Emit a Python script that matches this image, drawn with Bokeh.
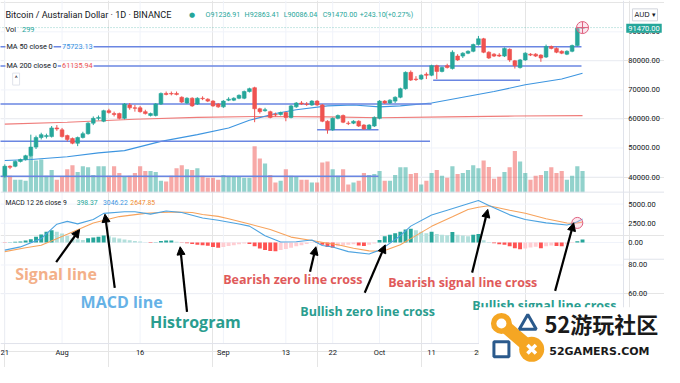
from bokeh.plotting import figure
from bokeh.models import (Range1d, Label, Arrow, NormalHead, Span, ColumnDataSource,
                          BoxAnnotation)
from bokeh.core.properties import value
from bokeh.embed import file_html
from bokeh.resources import INLINE

# ---------------- data ----------------
first_day = "2021-07-21"          # day index 0
date_ticks = [0, 11, 26, 42, 54, 63, 72, 82, 91]
date_tick_labels = ["21", "Aug", "16", "Sep", "13", "22", "Oct", "11", "20"]
price_ticks = [40000, 50000, 60000, 70000, 80000, 90000]
macd_ticks = [0, 2500, 5000]
osc_ticks = [60, 80]

opens = [40400, 43700, 43700, 45350, 46010, 47330, 50300, 53600, 53930, 53930,
         56900, 56240, 54260, 53270, 51620, 53600, 54920, 58550, 60200, 59210,
         62840, 61850, 61850, 60200, 64820, 63830, 63830, 62510, 61190, 61190,
         65150, 68780, 68780, 68780, 67460, 65480, 67130, 65150, 67130, 66800,
         66140, 65150, 64160, 66470, 66470, 67130, 67130, 69440, 70760, 63500,
         62840, 62510, 61520, 61520, 62180, 60530, 64160, 65480, 65150, 64820,
         66140, 64820, 59210, 56240, 60200, 61190, 58550, 58550, 59210, 57890,
         56570, 57560, 60200, 66140, 65480, 66140, 67460, 70430, 76040, 73730,
         73730, 75380, 75050, 78350, 76370, 78350, 77360, 81650, 81650, 82640,
         83300, 85610, 87590, 82970, 82310, 81980, 81650, 83960, 80000, 77690,
         80330, 82310, 82310, 81980, 81320, 84950, 84290, 83300, 82310, 83300,
         85280, 91236.91]
highs = [44360, 44030, 45680, 46340, 47660, 54590, 54260, 55250, 54920, 57560,
         57890, 56900, 54590, 53600, 53930, 55580, 58880, 60860, 61190, 63170,
         63500, 62510, 62180, 65480, 65480, 64820, 64490, 63170, 62180, 65480,
         69110, 69440, 69440, 69440, 67790, 67460, 67460, 67460, 67790, 67130,
         66470, 65480, 66470, 67460, 67460, 68450, 69770, 70760, 71090, 63830,
         63830, 62840, 62180, 62510, 62510, 64820, 65810, 66140, 65810, 66470,
         66470, 65150, 59540, 60530, 61520, 61520, 59210, 59540, 59540, 58220,
         58220, 60860, 66470, 66470, 66800, 67790, 70760, 76370, 76700, 74720,
         75380, 76040, 78680, 78680, 78020, 79010, 83630, 82310, 82970, 83630,
         85940, 88580, 87920, 83300, 82640, 82640, 84620, 84290, 80330, 80660,
         82970, 82640, 82640, 82310, 85610, 85280, 84620, 83630, 83630, 85610,
         91570, 92863.41]
lows = [39740, 42710, 43370, 45020, 45680, 47000, 49640, 52940, 53270, 53600,
        55910, 53600, 52280, 51290, 50630, 53270, 54590, 57890, 59540, 58880,
        61850, 60860, 59870, 59870, 63170, 62510, 62180, 61520, 60860, 60860,
        64820, 68120, 68120, 68120, 65480, 65150, 64160, 64820, 66470, 65810,
        64160, 63830, 63830, 66140, 66140, 66800, 66800, 69110, 58880, 61850,
        62510, 60200, 60860, 61190, 59210, 60200, 63830, 64820, 64490, 64490,
        64490, 58880, 54920, 55910, 59870, 58550, 57890, 58220, 57230, 56240,
        56240, 57230, 59870, 65150, 65150, 65480, 67130, 70100, 73070, 73070,
        73400, 73730, 74720, 73730, 76040, 77360, 77030, 80000, 80990, 82310,
        82970, 85280, 82640, 80660, 81320, 81320, 81320, 79670, 77360, 77360,
        80000, 81650, 81320, 79670, 80990, 83960, 82640, 82310, 81980, 82970,
        84950, 90086.04]
closes = [43700, 43370, 45350, 46010, 47330, 50300, 53600, 54590, 54260, 56900,
          56570, 53930, 52940, 51620, 53600, 54920, 58550, 60200, 60530, 62840,
          62180, 61520, 60200, 65150, 63830, 63670, 62510, 61850, 61850, 65150,
          68780, 68450, 68620, 68450, 65810, 67130, 64490, 67130, 66970, 66140,
          64490, 64160, 66140, 66800, 67130, 68120, 69440, 70430, 63500, 62510,
          63170, 60530, 61360, 62180, 60530, 64490, 65480, 65150, 64990, 66140,
          64820, 59210, 56240, 60200, 61190, 58880, 58390, 59210, 57560, 56570,
          57890, 60530, 66140, 65480, 66470, 67460, 70430, 76040, 73400, 73570,
          75050, 75050, 78350, 76370, 77690, 77690, 82970, 80330, 82640, 83300,
          85610, 87590, 82970, 80990, 81650, 81650, 84290, 80330, 78350, 80330,
          82640, 81980, 81650, 80990, 84950, 84290, 82970, 82640, 83300, 85280,
          91226.90, 91470.00]
volume = [367, 231, 177, 177, 163, 517, 449, 462, 231, 313,
          177, 218, 326, 381, 286, 367, 354, 245, 367, 367,
          231, 367, 272, 218, 231, 272, 367, 299, 299, 286,
          163, 150, 231, 340, 381, 326, 313, 340, 231, 204,
          204, 177, 245, 231, 218, 218, 204, 204, 653, 476,
          408, 245, 136, 163, 326, 231, 218, 177, 177, 136,
          136, 421, 435, 326, 231, 326, 109, 136, 163, 272,
          245, 258, 299, 163, 163, 245, 354, 354, 258, 272,
          109, 163, 272, 313, 231, 204, 367, 258, 272, 313,
          381, 340, 449, 358, 190, 218, 286, 354, 585, 435,
          272, 177, 231, 245, 299, 354, 272, 299, 177, 231,
          367, 299]

ma50_idx = [0, 5, 12, 18, 23, 30, 37, 43, 47, 52, 56, 62, 67, 72, 76, 82, 88, 94, 100, 107, 111]
ma50_val = [45680, 46010, 47000, 48320, 49080, 52280, 54590, 56900, 59540, 61850, 63170,
            64490, 64820, 64160, 64490, 65480, 67460, 69440, 71750, 73730, 75723.13]
ma200_idx = [0, 12, 25, 37, 50, 62, 72, 85, 98, 111]
ma200_val = [58220, 58880, 59870, 60530, 60860, 60700, 60400, 60700, 61000, 61135.94]

# user-drawn horizontal levels
hline_levels = [84850, 78250, 65150, 52280, 40235, 56240, 73300]
hline_from = [-1, -1, -1, -1, -1, 60, 82.3]
hline_to = [110.8, 110.8, 82, 81.7, 71.8, 71.8, 99]

hist = [-40, 40, 80, 125, 250, 420, 750, 1050, 1380, 1590,
        1380, 1170, 850, 540, 420, 330, 540, 650, 750, 900,
        800, 650, 500, 400, 300, 200, 120, 40, -80, 30,
        200, 250, 260, 100, -40, -100, -200, -300, -350, -420,
        -600, -700, -600, -450, -350, -250, -150, -200, -500, -800,
        -1000, -1100, -1150, -1000, -850, -700, -500, -350, -200, -50,
        -60, -300, -600, -700, -500, -400, -300, -250, -400, -450,
        -300, -150, 330, 800, 1000, 1200, 1400, 1700, 1800, 1600,
        1400, 1200, 1400, 1100, 1000, 950, 1375, 1000, 900, 800,
        1000, 1100, 300, 50, -100, -250, -300, -500, -750, -900,
        -800, -650, -550, -750, -500, -400, -450, -500, -250, -80,
        150, 398.37]
macd_idx = [0, 3, 7, 10, 12, 14, 17, 19, 23, 25, 28, 31, 34, 38, 41, 45, 47, 50, 53, 56,
            59, 61, 63, 66, 70, 72, 73, 76, 78, 82, 85, 89, 91, 93, 97, 100, 104, 108, 109, 110, 111]
macd_val = [-1000, -580, 500, 2380, 2750, 2420, 3000, 3790, 4000, 4000, 3700, 4100, 3900, 3200,
            2900, 2400, 2130, 880, 50, 100, 330, -400, -600, -1200, -1500, -1000, -580, 880, 2130,
            3580, 4200, 5040, 5460, 4830, 3600, 3000, 2550, 2280, 2430, 2700, 3046.22]
signal_idx = [0, 4, 7, 12, 17, 22, 27, 30, 33, 36, 38, 41, 43, 47, 51, 55, 59, 62, 64, 67,
              70, 72, 73, 76, 78, 82, 86, 89, 91, 93, 95, 97, 100, 104, 108, 109, 110, 111]
signal_val = [-1200, -700, -375, 1080, 2540, 3375, 3790, 3900, 3980, 3900, 3650, 3400, 3100,
              2400, 1700, 700, 250, -100, -300, -750, -1100, -1150, -1050, -300, 500, 2100,
              3350, 4300, 4600, 4780, 4500, 4200, 3800, 3100, 2530, 2511, 2549, 2647.85]

# ---------------- styling ----------------
GREEN = "#26a69a"
RED = "#ef5350"
TXT = "#131722"
GRID = "#f0f3fa"
SEP = "#e0e3eb"

n = len(closes)
idx = list(range(n))
candle_col = [GREEN if c >= o else RED for o, c in zip(opens, closes)]
hist_col = []
prev = 0
for h in hist:
    if h >= 0:
        hist_col.append("#26a69a" if h >= prev else "#b2dfdb")
    else:
        hist_col.append("#ff5252" if h <= prev else "#ffcdd2")
    prev = h

src = ColumnDataSource(dict(x=idx, o=opens, h=highs, l=lows, c=closes, v=volume,
                            col=candle_col, hist=hist, hcol=hist_col))

# One frame covering the whole canvas; each pane has its own y scale.
p = figure(width=664, height=367, output_backend="svg", toolbar_location=None,
           x_range=Range1d(-0.826, 126.75), y_range=Range1d(-25600, 100790),
           x_axis_location=None, y_axis_location=None, min_border=0)
p.outline_line_color = None
p.background_fill_color = "white"
p.border_fill_color = "white"
# px / py: pixel grid of the chart used only for placing annotations
p.extra_x_ranges = {"px": Range1d(0, 680)}
p.extra_y_ranges = {"vol": Range1d(-2489, 2720), "macd": Range1d(-16312.5, 31562.5),
                    "osc": Range1d(8.67, 264), "py": Range1d(383, 0)}

CHART_RIGHT = 638   # left edge of the price-scale strip
CHART_BOTTOM = 358  # top edge of the time-scale strip

# grid
p.segment(x0=date_ticks, x1=date_ticks, y0=0, y1=CHART_BOTTOM, y_range_name="py",
          line_color=GRID, line_width=1)
p.segment(x0=0, x1=CHART_RIGHT, y0=price_ticks, y1=price_ticks, x_range_name="px",
          line_color=GRID, line_width=1)
p.segment(x0=0, x1=CHART_RIGHT, y0=macd_ticks, y1=macd_ticks, x_range_name="px",
          y_range_name="macd", line_color=GRID, line_width=1)
p.segment(x0=0, x1=CHART_RIGHT, y0=osc_ticks, y1=osc_ticks, x_range_name="px",
          y_range_name="osc", line_color=GRID, line_width=1)

# pane separators and scale borders
p.add_layout(Span(location=CHART_RIGHT, dimension="height", x_range_name="px",
                  line_color=SEP, line_width=1))
p.add_layout(Span(location=CHART_BOTTOM, dimension="width", y_range_name="py",
                  line_color=SEP, line_width=1))
p.add_layout(Span(location=200, dimension="width", y_range_name="py",
                  line_color=SEP, line_width=1))
p.segment(x0=[CHART_RIGHT], x1=[680], y0=[270], y1=[270], x_range_name="px",
          y_range_name="py", line_color=SEP, line_width=1)

# volume
p.vbar(x="x", top="v", bottom=0, width=0.8, y_range_name="vol", fill_color="col",
       fill_alpha=0.5, line_color=None, source=src)
# moving averages
p.line(ma200_idx, ma200_val, line_color="#ef7c7a", line_width=1.1)
p.line(ma50_idx, ma50_val, line_color="#3d95e0", line_width=1.1)
# drawn levels
p.segment(x0=hline_from, x1=hline_to, y0=hline_levels, y1=hline_levels,
          line_color="#6a86e2", line_width=1.5)
# last-price line
p.segment(x0=[-1], x1=[CHART_RIGHT], y0=[closes[-1]], y1=[closes[-1]], x_range_name="px",
          line_color=GREEN, line_dash="1 2", line_alpha=0.5, line_width=1)
# candles
p.segment(x0="x", y0="l", x1="x", y1="h", line_color="col", line_width=1, source=src)
p.vbar(x="x", top="o", bottom="c", width=0.72, fill_color="col", line_color="col",
       line_width=0.6, source=src)

# MACD pane
p.vbar(x="x", top="hist", bottom=0, width=0.75, y_range_name="macd",
       fill_color="hcol", line_color=None, source=src)
p.line(signal_idx, signal_val, y_range_name="macd", line_color="#f7a35c", line_width=1.1)
p.line(macd_idx, macd_val, y_range_name="macd", line_color="#4da3e0", line_width=1.1)

# highlight circles
p.scatter(x=[idx[-1]], y=[closes[-1]], marker="circle_cross", size=12,
          fill_color="#f8bbd0", fill_alpha=0.35, line_color="#e0607e", line_width=1)
p.scatter(x=[idx[-2]], y=[signal_val[-2]], y_range_name="macd", marker="circle", size=11,
          fill_color="#f8bbd0", fill_alpha=0.35, line_color="#e0607e", line_width=1)

# ---------- scale labels (price, MACD, oscillator, time) ----------
SCALE_X = 643
tick_style = dict(text_font=value("Roboto"), text_font_size="7.5px", text_color=TXT,
                  text_baseline="middle")
p.text(x=[SCALE_X] * len(price_ticks), y=price_ticks,
       text=[f"{t:.2f}" for t in price_ticks], x_range_name="px", **tick_style)
p.text(x=[SCALE_X] * len(macd_ticks), y=macd_ticks,
       text=[f"{t:.2f}" for t in macd_ticks], x_range_name="px", y_range_name="macd",
       **tick_style)
p.text(x=[SCALE_X] * len(osc_ticks), y=osc_ticks,
       text=[f"{t:.2f}" for t in osc_ticks], x_range_name="px", y_range_name="osc",
       **tick_style)
p.text(x=date_ticks, y=[367] * len(date_ticks), text=date_tick_labels, y_range_name="py",
       text_align="center", **tick_style)


def lab(x, y, text, size, color, font="Roboto", style="normal", align="left",
        bg=None, bg_alpha=1.0, border=None, pad=0, level="annotation"):
    kw = dict(x=x, y=y, x_range_name="px", y_range_name="py", text=text,
              text_font=font, text_font_size=f"{size}px", text_font_style=style,
              text_color=color, text_align=align, text_baseline="middle", level=level)
    if bg is not None:
        kw.update(background_fill_color=bg, background_fill_alpha=bg_alpha)
    if border is not None:
        kw.update(border_line_color=border)
    if pad:
        kw.update(padding=pad)
    L = Label(**kw)
    p.add_layout(L)
    return L


# header legends
lab(5, 15, "Bitcoin / Australian Dollar · 1D · BINANCE", 9.1, TXT, bg="white", bg_alpha=0.85)
lab(193, 15, "●", 7, GREEN, font="DejaVu Sans")
chg = closes[-1] - closes[-2]
ohlc_tokens = [f"O{opens[-1]:.2f}", f"H{highs[-1]:.2f}", f"L{lows[-1]:.2f}",
               f"C{closes[-1]:.2f}", f"+{chg:.2f}", f"(+{100 * chg / closes[-2]:.2f}%)"]
for tx, tok in zip([210, 250, 290, 330, 368, 394], ohlc_tokens):
    lab(tx, 15, tok, 7.1, GREEN)
lab(5, 30, "Vol", 7.4, TXT, bg="white", bg_alpha=0.85)
lab(22, 30, f"{volume[-1]}", 7.4, GREEN)
lab(5, 48, "MA 50 close 0", 7.3, TXT, bg="white", bg_alpha=0.9, pad=1)
lab(62, 48, f"{ma50_val[-1]:.2f}", 7.3, "#2f8fe0", bg="white", bg_alpha=0.9, pad=1)
lab(5, 68, "MA 200 close 0", 7.3, TXT, bg="white", bg_alpha=0.9, pad=1)
lab(62, 68, f"{ma200_val[-1]:.2f}", 7.3, RED, bg="white", bg_alpha=0.9, pad=1)
lab(16, 82, "^", 7, TXT, align="center", bg="white", border=SEP, pad=2)
lab(5, 211, "MACD 12 26 close 9", 6.8, TXT)
lab(78, 211, f"{hist[-1]:.2f}", 6.8, GREEN)
lab(105, 211, f"{macd_val[-1]:.2f}", 6.8, "#3d95e0")
lab(133, 211, f"{signal_val[-1]:.2f}", 6.8, "#f08a2c")

# price-scale extras
lab(660, 15, "AUD ▾", 7, TXT, font="DejaVu Sans", align="center", bg="white",
    border="#d1d4dc", pad=2)
lab(659, 29, f"{closes[-1]:.2f}", 7.5, "white", align="center", bg=GREEN, pad=2)

# explanatory annotations
BOLD = "bold"
lab(15, 285, "Signal line", 16, "#f3b089", font="Open Sans", style=BOLD)
lab(82, 315, "MACD line", 16, "#66b2e6", font="Open Sans", style=BOLD)
lab(153, 336, "Histrogram", 16, "#2a9d8f", font="Open Sans", style=BOLD)
lab(228, 291, "Bearish zero line cross", 12.5, "#e05a5a", font="Open Sans", style=BOLD)
lab(307, 325, "Bullish zero line cross", 12.5, "#2a9d8f", font="Open Sans", style=BOLD)
lab(397, 294, "Bearish signal line cross", 12.5, "#e05a5a", font="Open Sans", style=BOLD)
lab(483, 318, "Bullish signal line cross", 12.5, "#2a9d8f", font="Open Sans", style=BOLD)

arrows = [(57, 273, 81, 239), (117, 300, 107, 223), (191, 325, 184, 257),
          (317, 283, 323, 257), (373, 305, 394, 255), (483, 284, 499, 218),
          (568, 303, 587, 232)]
for x0, y0, x1, y1 in arrows:
    p.add_layout(Arrow(x_start=x0, y_start=y0, x_end=x1, y_end=y1,
                       x_range_name="px", y_range_name="py", line_color="black",
                       line_width=2.2,
                       end=NormalHead(size=8, fill_color="black", line_color="black")))

# watermark logo: white plate (annotation level), then shapes and text on the overlay level
p.add_layout(BoxAnnotation(left=490, right=680, top=320, bottom=383, x_range_name="px",
                           y_range_name="py", fill_color="white", fill_alpha=1.0,
                           line_color=None))
ORANGE = "#f5a623"
BLUE = "#2b5a8c"
logo = dict(x_range_name="px", y_range_name="py", level="overlay")
p.segment(x0=[513], y0=[337], x1=[544], y1=[364], line_color=ORANGE, line_width=13,
          line_cap="round", **logo)
p.scatter(x=[513, 544], y=[337, 364], size=[21, 25], marker="circle",
          fill_color=ORANGE, line_color=None, **logo)
p.scatter(x=[513], y=[337], size=[10], marker="circle", fill_color="white",
          line_color=None, **logo)
p.scatter(x=[544], y=[364], size=[12], marker="x", line_color="white", line_width=3.5,
          **logo)
p.scatter(x=[540], y=[338], size=[17], marker="triangle", fill_color=None,
          line_color=BLUE, line_width=3, **logo)
p.scatter(x=[513], y=[364], size=[15], marker="square", fill_color=None,
          line_color=BLUE, line_width=3, **logo)
lab(557, 337, "52游玩社区", 22, "#1a1a1a", font="Noto Sans CJK SC", style="bold",
    level="overlay")
lab(562, 366, "52GAMERS.COM", 11, "#1a1a1a", font="DejaVu Sans", style="bold",
    level="overlay")

open("out.html", "w").write(file_html(p, INLINE))
